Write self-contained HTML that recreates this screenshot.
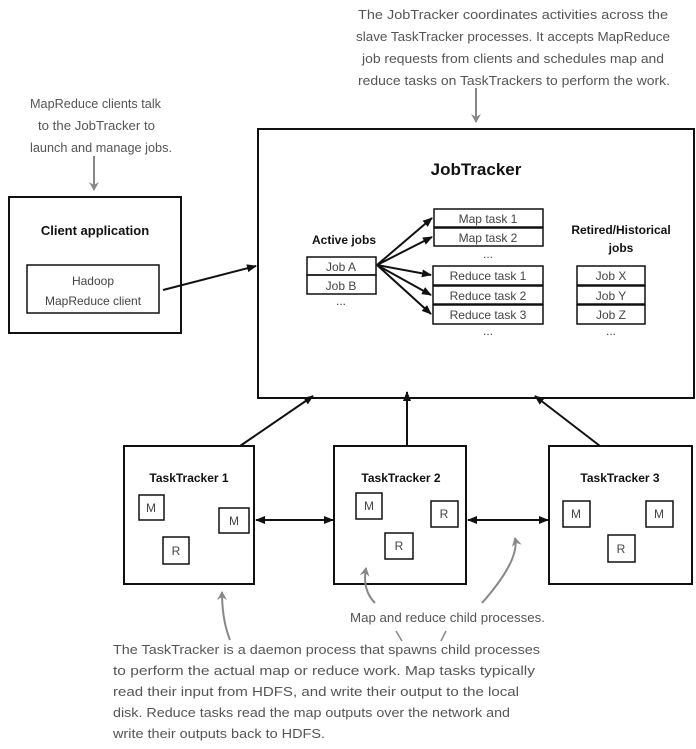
<!DOCTYPE html><html><head><style>
body{margin:0;background:#fff;width:696px;height:744px;overflow:hidden;font-family:"Liberation Sans",sans-serif}
</style></head><body>
<svg width="696" height="744" xmlns="http://www.w3.org/2000/svg" font-family="Liberation Sans, sans-serif">
<defs>
<marker id="a" markerWidth="10" markerHeight="8" refX="9" refY="4" orient="auto" markerUnits="userSpaceOnUse"><path d="M0,0 L10,4 L0,8 Z" fill="#111"/></marker>
<marker id="b" markerWidth="10" markerHeight="8" refX="1" refY="4" orient="auto" markerUnits="userSpaceOnUse"><path d="M10,0 L0,4 L10,8 Z" fill="#111"/></marker>
<marker id="g" markerWidth="10" markerHeight="10" refX="8" refY="5" orient="auto" markerUnits="userSpaceOnUse"><path d="M0,0 L9,5 L0,10 L3,5 Z" fill="#888"/></marker>
</defs>
<g fill="none" stroke="#111" stroke-width="2">
<rect x="258" y="129" width="436" height="269"/>
<rect x="9" y="197" width="172" height="136"/>
<rect x="124" y="446" width="130" height="138"/>
<rect x="334" y="446" width="132" height="138"/>
<rect x="549" y="446" width="143" height="138"/>
</g>
<g fill="none" stroke="#111" stroke-width="1.5">
<rect x="27" y="265" width="132" height="48"/>
<rect x="307" y="257" width="69" height="18"/><rect x="307" y="275" width="69" height="19"/>
<rect x="434" y="209" width="109" height="18"/><rect x="434" y="228" width="109" height="18"/>
<rect x="433" y="266" width="110" height="19"/><rect x="433" y="286" width="110" height="18"/><rect x="433" y="305" width="110" height="19"/>
<rect x="577" y="266" width="68" height="19"/><rect x="577" y="286" width="68" height="18"/><rect x="577" y="305" width="68" height="19"/>
<rect x="139" y="495" width="25" height="25"/><rect x="219" y="508" width="30" height="25"/><rect x="163" y="537" width="26" height="27"/>
<rect x="356" y="493" width="26" height="26"/><rect x="431" y="501" width="27" height="26"/><rect x="385" y="533" width="28" height="26"/>
<rect x="563" y="501" width="27" height="26"/><rect x="646" y="501" width="27" height="26"/><rect x="608" y="535" width="27" height="27"/>
</g>
<g stroke="#111" stroke-width="2" fill="none" marker-end="url(#a)">
<line x1="163" y1="290" x2="256" y2="266"/>
<line x1="377" y1="265" x2="432" y2="218"/>
<line x1="377" y1="265" x2="432" y2="237"/>
<line x1="377" y1="265" x2="431" y2="275"/>
<line x1="377" y1="265" x2="431" y2="295"/>
<line x1="377" y1="265" x2="431" y2="314"/>
<line x1="240" y1="446" x2="313" y2="396"/>
<line x1="407" y1="446" x2="407" y2="392"/>
<line x1="600" y1="446" x2="535" y2="396"/>
<line x1="256" y1="520" x2="333" y2="520" marker-start="url(#b)"/>
<line x1="468" y1="520" x2="548" y2="520" marker-start="url(#b)"/>
</g>
<g fill="#111" font-weight="bold" text-anchor="middle">
<text x="476" y="175" font-size="17">JobTracker</text>
<text x="95" y="235" font-size="13">Client application</text>
<text x="344" y="244" font-size="12">Active jobs</text>
<text x="621" y="234" font-size="12">Retired/Historical</text>
<text x="621" y="252" font-size="12">jobs</text>
<text x="189" y="482" font-size="12">TaskTracker 1</text>
<text x="401" y="482" font-size="12">TaskTracker 2</text>
<text x="620" y="482" font-size="12">TaskTracker 3</text>
</g>
<g fill="#444" font-size="12" text-anchor="middle">
<text x="93" y="285">Hadoop</text><text x="93" y="305">MapReduce client</text>
<text x="341" y="271">Job A</text><text x="341" y="290">Job B</text><text x="341" y="305">...</text>
<text x="488" y="223">Map task 1</text><text x="488" y="242">Map task 2</text><text x="488" y="258">...</text>
<text x="488" y="280">Reduce task 1</text><text x="488" y="300">Reduce task 2</text><text x="488" y="319">Reduce task 3</text><text x="488" y="335">...</text>
<text x="611" y="280">Job X</text><text x="611" y="300">Job Y</text><text x="611" y="319">Job Z</text><text x="611" y="335">...</text>
<text x="151" y="512">M</text><text x="234" y="525">M</text><text x="176" y="555">R</text>
<text x="369" y="510">M</text><text x="444" y="518">R</text><text x="399" y="550">R</text>
<text x="576" y="518">M</text><text x="659" y="518">M</text><text x="621" y="553">R</text>
</g>
<g fill="#555" font-size="13" lengthAdjust="spacingAndGlyphs">
<text x="358" y="19" textLength="310" lengthAdjust="spacingAndGlyphs">The JobTracker coordinates activities across the</text>
<text x="356" y="41" textLength="314" lengthAdjust="spacingAndGlyphs">slave TaskTracker processes. It accepts MapReduce</text>
<text x="362" y="63" textLength="302" lengthAdjust="spacingAndGlyphs">job requests from clients and schedules map and</text>
<text x="358" y="85" textLength="312" lengthAdjust="spacingAndGlyphs">reduce tasks on TaskTrackers to perform the work.</text>
<text x="30" y="108" textLength="131" lengthAdjust="spacingAndGlyphs">MapReduce clients talk</text>
<text x="38" y="130" textLength="117" lengthAdjust="spacingAndGlyphs">to the JobTracker to</text>
<text x="30" y="152" textLength="142" lengthAdjust="spacingAndGlyphs">launch and manage jobs.</text>
<text x="350" y="622" textLength="195" lengthAdjust="spacingAndGlyphs">Map and reduce child processes.</text>
<text x="113" y="654" textLength="427" lengthAdjust="spacingAndGlyphs">The TaskTracker is a daemon process that spawns child processes</text>
<text x="113" y="675" textLength="422" lengthAdjust="spacingAndGlyphs">to perform the actual map or reduce work. Map tasks typically</text>
<text x="113" y="696" textLength="406" lengthAdjust="spacingAndGlyphs">read their input from HDFS, and write their output to the local</text>
<text x="113" y="717" textLength="397" lengthAdjust="spacingAndGlyphs">disk. Reduce tasks read the map outputs over the network and</text>
<text x="113" y="738" textLength="212" lengthAdjust="spacingAndGlyphs">write their outputs back to HDFS.</text>
</g>
<g stroke="#888" stroke-width="2" fill="none" marker-end="url(#g)">
<line x1="476" y1="88" x2="476" y2="122"/>
<line x1="94" y1="156" x2="94" y2="190"/>
<path d="M230,640 Q222,620 222,592"/>
<path d="M375,603 Q362,590 366,568"/>
<path d="M482,603 Q520,560 515,538"/>
</g>
<g stroke="#888" stroke-width="1.5"><line x1="396" y1="631" x2="402" y2="641"/><line x1="446" y1="631" x2="441" y2="641"/></g>
</svg>
</body></html>
